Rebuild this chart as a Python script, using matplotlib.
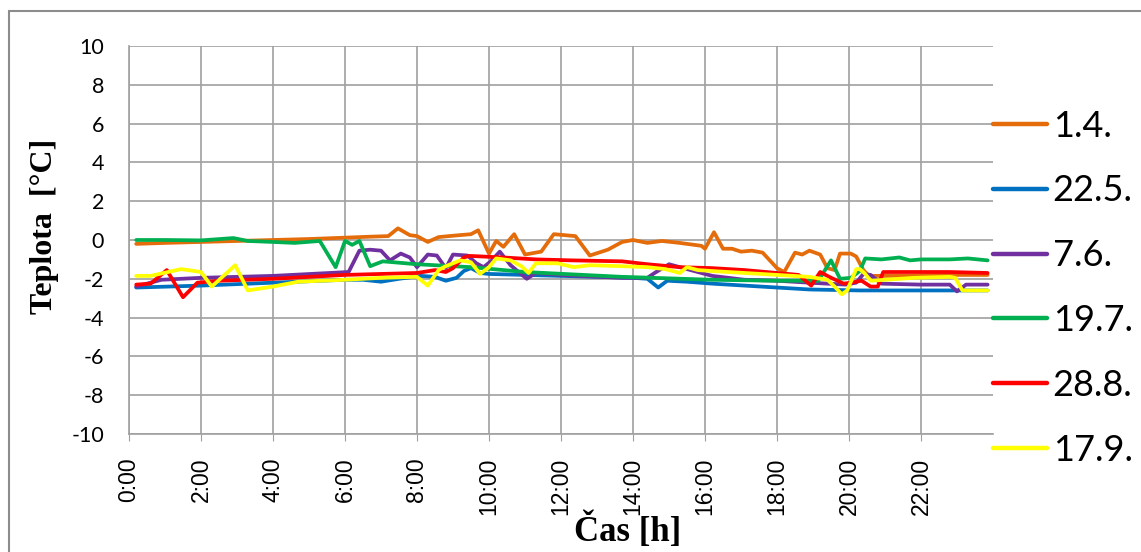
import matplotlib
matplotlib.use("Agg")
import matplotlib.pyplot as plt
from matplotlib.patches import Rectangle

# hodnoty (cas v hodinach, teplota ve °C)
labels = ["1.4.", "22.5.", "7.6.", "19.7.", "28.8.", "17.9."]
colors = ["#E46C0A", "#0070C0", "#7030A0", "#00B050", "#FF0000", "#FFFF00"]

t_apr = [0.2, 1, 2, 3, 4, 5, 6, 6.7, 7.2, 7.47, 7.8, 8.0, 8.3, 8.6, 9.0, 9.5, 9.7, 10.0, 10.2,
         10.4, 10.7, 11.0, 11.45, 11.8, 12.4, 12.8, 13.3, 13.7, 14.0, 14.4, 14.8, 15.3, 15.9, 16.0,
         16.25, 16.5, 16.75, 17.0, 17.3, 17.6, 18.0, 18.2, 18.5, 18.7, 18.9, 19.2, 19.4, 19.6, 19.75,
         20.05, 20.2, 20.4, 20.55, 20.9, 21.8, 22.4, 22.8, 23.85]
v_apr = [-0.2, -0.15, -0.1, -0.05, 0.0, 0.05, 0.12, 0.17, 0.2, 0.6, 0.25, 0.2, -0.1, 0.15, 0.22,
         0.3, 0.5, -0.7, -0.05, -0.35, 0.3, -0.75, -0.6, 0.3, 0.2, -0.8, -0.5, -0.1, 0.0, -0.15,
         -0.05, -0.15, -0.3, -0.45, 0.4, -0.45, -0.45, -0.6, -0.55, -0.65, -1.45, -1.65, -0.65,
         -0.75, -0.55, -0.75, -1.45, -1.55, -0.7, -0.7, -0.85, -1.55, -1.85, -1.85, -1.85, -1.8,
         -1.8, -1.8]

t_may = [0.2, 2, 4, 6, 6.5, 7.0, 7.5, 8.1, 8.5, 8.8, 9.1, 9.3, 9.5, 9.75, 10.0, 12.0, 14.0,
         14.4, 14.7, 14.95, 15.5, 16.2, 17.1, 18.0, 18.9, 20.3, 22.0, 23.85]
v_may = [-2.45, -2.35, -2.2, -2.05, -2.05, -2.15, -2.0, -1.85, -1.9, -2.1, -1.95, -1.6, -1.45,
         -1.7, -1.75, -1.85, -1.95, -2.0, -2.45, -2.1, -2.15, -2.25, -2.35, -2.45, -2.55, -2.6,
         -2.6, -2.6]

t_jun = [0.2, 0.9, 2, 4, 6.1, 6.4, 6.7, 7.0, 7.25, 7.55, 7.8, 8.0, 8.3, 8.55, 8.8, 9.0, 9.4,
         9.65, 9.85, 10.05, 10.3, 10.6, 11.05, 11.3, 12, 13.7, 14.4, 14.6, 15.0, 15.3, 15.5, 16.2,
         17.1, 18.0, 18.9, 19.9, 20.2, 20.4, 20.6, 20.9, 22.0, 22.8, 23.0, 23.25, 23.85]
v_jun = [-2.4, -2.05, -1.95, -1.85, -1.65, -0.55, -0.5, -0.55, -1.05, -0.7, -0.9, -1.4, -0.75,
         -0.8, -1.45, -0.75, -0.8, -1.2, -1.4, -1.1, -0.6, -1.3, -2.0, -1.7, -1.8, -1.95, -1.95,
         -1.7, -1.25, -1.4, -1.5, -1.85, -2.05, -2.1, -2.2, -2.3, -2.2, -1.75, -1.8, -2.25, -2.3,
         -2.3, -2.65, -2.3, -2.3]

t_jul = [0.2, 1, 2, 2.9, 3.3, 4.0, 4.6, 5.3, 5.74, 6.0, 6.2, 6.4, 6.7, 7.05, 8.0, 9.5, 11.0,
         13.7, 16.2, 18.0, 19.15, 19.5, 19.75, 20.05, 20.3, 20.45, 20.9, 21.4, 21.7, 22.0, 22.8,
         23.3, 23.85]
v_jul = [0.0, 0.0, -0.02, 0.1, -0.05, -0.1, -0.15, -0.05, -1.4, -0.05, -0.25, -0.05, -1.35,
         -1.1, -1.25, -1.4, -1.65, -1.9, -2.05, -2.1, -2.1, -1.05, -2.0, -1.95, -1.6, -0.95, -1.0,
         -0.9, -1.05, -1.0, -1.0, -0.95, -1.05]

t_aug = [0.2, 0.6, 1.05, 1.5, 1.9, 2.5, 4.0, 6.0, 7.0, 8.0, 8.5, 8.8, 9.0, 9.3, 9.45, 10.4,
         11.3, 12.3, 13.7, 14.4, 15.3, 16.2, 17.1, 18.0, 18.6, 18.95, 19.2, 19.45, 19.85, 20.05,
         20.35, 20.6, 20.8, 20.95, 21.8, 22.8, 23.85]
v_aug = [-2.3, -2.25, -1.55, -2.95, -2.2, -2.1, -2.0, -1.8, -1.75, -1.7, -1.55, -1.65, -1.45,
         -0.9, -0.82, -0.9, -1.0, -1.05, -1.1, -1.25, -1.4, -1.45, -1.55, -1.7, -1.8, -2.35,
         -1.65, -1.9, -2.25, -2.2, -2.1, -2.4, -2.4, -1.65, -1.65, -1.65, -1.7]

t_sep = [0.2, 0.6, 1.45, 2.0, 2.3, 2.95, 3.3, 4.0, 4.7, 6.0, 7.0, 8.0, 8.3, 8.6, 8.8, 9.2, 9.5,
         9.75, 10.0, 10.2, 10.6, 10.9, 11.1, 11.3, 11.9, 12.35, 12.8, 13.7, 14.4, 14.9, 15.3,
         15.5, 15.8, 16.2, 17.1, 18.0, 18.9, 19.4, 19.6, 19.8, 19.95, 20.2, 20.3, 20.45, 20.6,
         21.0, 21.8, 22.8, 22.95, 23.15, 23.85]
v_sep = [-1.85, -1.85, -1.5, -1.65, -2.4, -1.3, -2.6, -2.4, -2.15, -2.05, -1.95, -1.9, -2.35,
         -1.55, -1.35, -1.05, -1.15, -1.75, -1.4, -0.95, -1.05, -1.35, -1.7, -1.2, -1.2, -1.4,
         -1.3, -1.35, -1.4, -1.5, -1.7, -1.4, -1.55, -1.6, -1.7, -1.8, -1.9, -2.05, -2.4, -2.8,
         -2.6, -1.5, -1.5, -1.75, -2.1, -2.05, -1.95, -1.9, -1.95, -2.6, -2.6]

times = [t_apr, t_may, t_jun, t_jul, t_aug, t_sep]
values = [v_apr, v_may, v_jun, v_jul, v_aug, v_sep]

x_ticks = list(range(0, 24, 2))
x_ticklabels = ["%d:00" % h for h in x_ticks]
y_ticks = list(range(-10, 11, 2))

W, H = 1141, 552
fig = plt.figure(figsize=(W / 100, H / 100), dpi=100)
fig.patch.set_facecolor("white")
fig.patches.append(Rectangle((9 / W, -0.05), 1.2, 1 - 11 / H + 0.05, transform=fig.transFigure,
                             fill=False, edgecolor="#8c8c8c", linewidth=1.5))

ax = fig.add_axes([129 / W, 1 - 434 / H, (993 - 129) / W, (434 - 46) / H])

for t, v, c, lab in zip(times, values, colors, labels):
    ax.plot(t, v, color=c, linewidth=2.7, label=lab, solid_capstyle="round", solid_joinstyle="round")

ax.set_xlim(0, 24)
ax.set_ylim(-10, 10)
ax.set_xticks(x_ticks)
ax.set_xticklabels(x_ticklabels, rotation=90, fontsize=16.5, family="Liberation Sans")
ax.set_yticks(y_ticks)
ax.set_yticklabels([str(y) for y in y_ticks], fontsize=15.5, family="Lato")
ax.tick_params(axis="x", length=5, color="#a0a0a0", pad=12)
ax.tick_params(axis="y", length=0, pad=18)
ax.grid(True, color="#a0a0a0", linewidth=1.2)
ax.set_axisbelow(True)
for s in ["top", "right"]:
    ax.spines[s].set_visible(False)
for s in ["left", "bottom"]:
    ax.spines[s].set_color("#a0a0a0")
    ax.spines[s].set_linewidth(1.2)

# popisky os
fig.text(628 / W, 1 - 531 / H, "Čas [h]", fontsize=25, fontweight="bold",
         family="Liberation Serif", ha="center", va="center")
fig.text(45 / W, 1 - 226 / H, "Teplota  [°C]", fontsize=23, fontweight="bold",
         family="Liberation Serif", ha="center", va="center", rotation=90)

leg = ax.legend(loc="center left", bbox_to_anchor=(1.0, 0.376), frameon=False, borderaxespad=0,
                borderpad=0, handlelength=1.5, handletextpad=0.15, labelspacing=0.88,
                prop={"family": "Lato", "size": 26})
for line in leg.get_lines():
    line.set_linewidth(3.2)

fig.savefig("out.png", dpi=100)
